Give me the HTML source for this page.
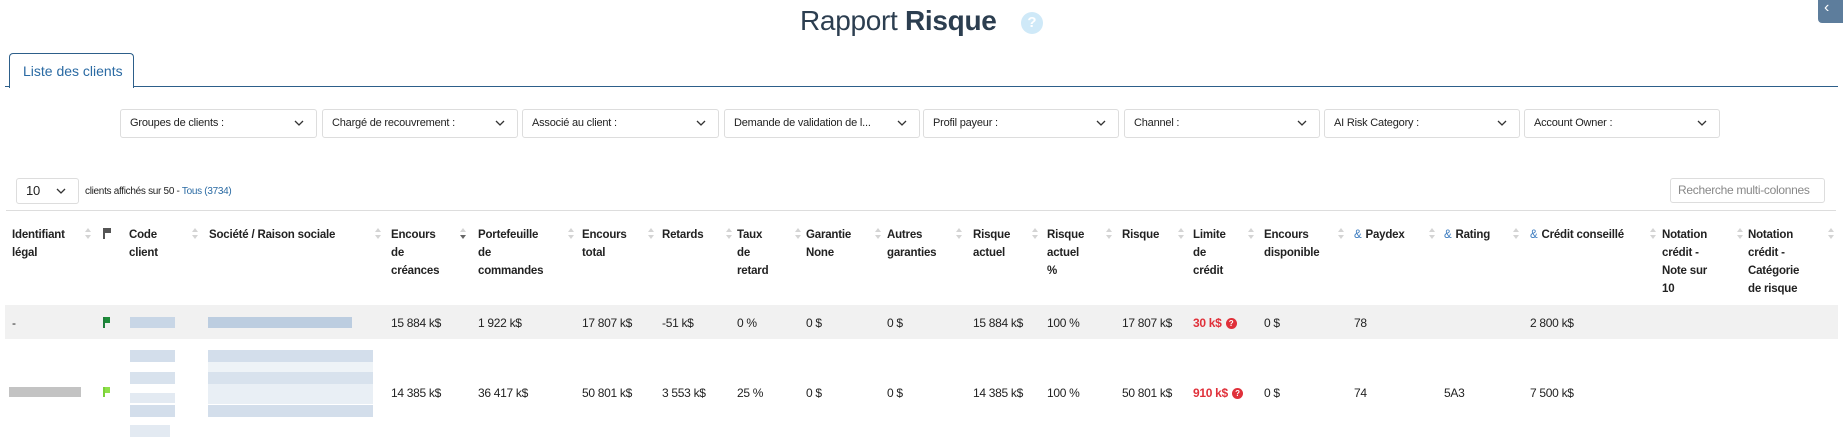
<!DOCTYPE html>
<html><head><meta charset="utf-8"><style>
*{margin:0;padding:0;box-sizing:border-box}
body{width:1843px;height:441px;overflow:hidden;background:#fff;font-family:"Liberation Sans",Arial,sans-serif;color:#222;position:relative}
.a{position:absolute;white-space:nowrap}
.title{left:800px;top:5px;font-size:28px;color:#2c3e50;letter-spacing:-0.3px}
.dd{position:absolute;top:109px;height:29px;border:1px solid #ddd;border-radius:3px;font-size:11px;line-height:27px;padding-left:9px;color:#222;letter-spacing:-0.2px}
.dd svg{position:absolute;right:12px;top:10px}
.h{position:absolute;top:226px;font-size:11.5px;font-weight:bold;line-height:18px;color:#222;letter-spacing:-0.2px}
.d{position:absolute;font-size:12px;letter-spacing:-0.3px}
.r1{top:316px}.r2{top:386px}
.red{color:#e0303a;font-weight:bold}
.q{display:inline-block;width:11px;height:11px;border-radius:50%;background:#e0303a;color:#fff;font-size:8px;line-height:11px;text-align:center;margin-left:4px;vertical-align:1px}
.bl{position:absolute;background:#c8d6e6}
.lk{color:#3b7bbf;font-weight:normal;margin-right:4px}
</style></head><body>
<div class="a title"><span style="font-weight:300">Rapport</span> <span style="font-weight:bold">Risque</span></div>
<div class="a" style="left:1021px;top:12px;width:22px;height:22px;border-radius:50%;background:#cfe9f8;color:#fff;font-size:15px;font-weight:bold;text-align:center;line-height:22px">?</div>
<div class="a" style="left:1818px;top:-4px;width:30px;height:27px;border-radius:4px;background:#5d7d9c;color:#fff;font-size:16px;line-height:24px;padding-left:6px">‹</div>

<div class="a" style="left:9px;top:53px;width:125px;height:35px;border:1px solid #2d5f8a;border-bottom:none;border-radius:4px 4px 0 0;background:#fff;z-index:2;font-size:14px;color:#2a6aa3;line-height:34px;padding-left:13px">Liste des clients</div>
<div class="a" style="left:5px;top:86px;width:1833px;height:1px;background:#2d5f8a"></div>

<div class="dd" style="left:120px;width:197px">Groupes de clients :<svg width="10" height="7"><path d="M1 1l4 4 4-4" stroke="#333" fill="none" stroke-width="1.3"/></svg></div>
<div class="dd" style="left:322px;width:196px">Chargé de recouvrement :<svg width="10" height="7"><path d="M1 1l4 4 4-4" stroke="#333" fill="none" stroke-width="1.3"/></svg></div>
<div class="dd" style="left:522px;width:197px">Associé au client :<svg width="10" height="7"><path d="M1 1l4 4 4-4" stroke="#333" fill="none" stroke-width="1.3"/></svg></div>
<div class="dd" style="left:724px;width:196px">Demande de validation de l...<svg width="10" height="7"><path d="M1 1l4 4 4-4" stroke="#333" fill="none" stroke-width="1.3"/></svg></div>
<div class="dd" style="left:923px;width:196px">Profil payeur :<svg width="10" height="7"><path d="M1 1l4 4 4-4" stroke="#333" fill="none" stroke-width="1.3"/></svg></div>
<div class="dd" style="left:1124px;width:196px">Channel :<svg width="10" height="7"><path d="M1 1l4 4 4-4" stroke="#333" fill="none" stroke-width="1.3"/></svg></div>
<div class="dd" style="left:1324px;width:196px">AI Risk Category :<svg width="10" height="7"><path d="M1 1l4 4 4-4" stroke="#333" fill="none" stroke-width="1.3"/></svg></div>
<div class="dd" style="left:1524px;width:196px">Account Owner :<svg width="10" height="7"><path d="M1 1l4 4 4-4" stroke="#333" fill="none" stroke-width="1.3"/></svg></div>

<div class="dd" style="left:16px;top:178px;width:63px;height:26px;font-size:13px;line-height:24px">10<svg width="10" height="7" style="top:9px"><path d="M1 1l4 4 4-4" stroke="#333" fill="none" stroke-width="1.3"/></svg></div>
<div class="a" style="left:85px;top:186px;font-size:10px;letter-spacing:-0.3px">clients affichés sur 50 - <span style="color:#2a6aa3">Tous (3734)</span></div>
<div class="a" style="left:1670px;top:178px;width:155px;height:25px;border:1px solid #ddd;border-radius:3px;font-size:12px;color:#888;line-height:23px;padding-left:7px;letter-spacing:-0.3px">Recherche multi-colonnes</div>
<div class="a" style="left:6px;top:210px;width:1830px;height:1px;background:#ddd"></div>

<div class="h" style="left:12px">Identifiant<br>légal</div>
<div class="a" style="left:103px;top:228px;width:2px;height:11px;background:#555"></div><div class="a" style="left:105px;top:228px;width:6px;height:5px;background:#555"></div>
<div class="h" style="left:129px">Code<br>client</div>
<div class="h" style="left:209px">Société / Raison sociale</div>
<div class="h" style="left:391px">Encours<br>de<br>créances</div>
<div class="h" style="left:478px">Portefeuille<br>de<br>commandes</div>
<div class="h" style="left:582px">Encours<br>total</div>
<div class="h" style="left:662px">Retards</div>
<div class="h" style="left:737px">Taux<br>de<br>retard</div>
<div class="h" style="left:806px">Garantie<br>None</div>
<div class="h" style="left:887px">Autres<br>garanties</div>
<div class="h" style="left:973px">Risque<br>actuel</div>
<div class="h" style="left:1047px">Risque<br>actuel<br>%</div>
<div class="h" style="left:1122px">Risque</div>
<div class="h" style="left:1193px">Limite<br>de<br>crédit</div>
<div class="h" style="left:1264px">Encours<br>disponible</div>
<div class="h" style="left:1354px"><span class="lk">&amp;</span>Paydex</div>
<div class="h" style="left:1444px"><span class="lk">&amp;</span>Rating</div>
<div class="h" style="left:1530px"><span class="lk">&amp;</span>Crédit conseillé</div>
<div class="h" style="left:1662px">Notation<br>crédit -<br>Note sur<br>10</div>
<div class="h" style="left:1748px">Notation<br>crédit -<br>Catégorie<br>de risque</div>

<svg class="a" style="left:0;top:226px" width="1843" height="16">
<g fill="#d4d4d4">
<path id="s" d="M0 6l3-4 3 4zM0 9l3 4 3-4z" transform="translate(85,0)"/>
<use href="#s" x="107"/><use href="#s" x="290"/><use href="#s" x="483"/><use href="#s" x="563"/><use href="#s" x="641"/><use href="#s" x="710"/><use href="#s" x="790"/><use href="#s" x="871"/><use href="#s" x="947"/><use href="#s" x="1021"/><use href="#s" x="1093"/><use href="#s" x="1163"/><use href="#s" x="1253"/><use href="#s" x="1344"/><use href="#s" x="1428"/><use href="#s" x="1565"/><use href="#s" x="1652"/><use href="#s" x="1743"/>
</g>
<path d="M460 6l3-4 3 4z" fill="#d4d4d4"/><path d="M460 9l3 4 3-4z" fill="#666"/>
</svg>

<div class="a" style="left:5px;top:305px;width:1833px;height:34px;background:#f1f1f1"></div>
<div class="d r1" style="left:12px">-</div>
<div class="a" style="left:103px;top:317px;width:2px;height:11px;background:#1e7d3a"></div><div class="a" style="left:105px;top:317px;width:5px;height:6px;background:#1e8c3a"></div>
<div class="bl" style="left:130px;top:317px;width:45px;height:11px"></div>
<div class="bl" style="left:208px;top:317px;width:144px;height:11px;background:#bccde0"></div>
<div class="d r1" style="left:391px">15 884 k$</div>
<div class="d r1" style="left:478px">1 922 k$</div>
<div class="d r1" style="left:582px">17 807 k$</div>
<div class="d r1" style="left:662px">-51 k$</div>
<div class="d r1" style="left:737px">0 %</div>
<div class="d r1" style="left:806px">0 $</div>
<div class="d r1" style="left:887px">0 $</div>
<div class="d r1" style="left:973px">15 884 k$</div>
<div class="d r1" style="left:1047px">100 %</div>
<div class="d r1" style="left:1122px">17 807 k$</div>
<div class="d r1 red" style="left:1193px">30 k$<span class="q">?</span></div>
<div class="d r1" style="left:1264px">0 $</div>
<div class="d r1" style="left:1354px">78</div>
<div class="d r1" style="left:1530px">2 800 k$</div>

<div class="a" style="left:9px;top:387px;width:72px;height:10px;background:#b4b4b4;opacity:.8"></div>
<div class="a" style="left:103px;top:387px;width:2px;height:10px;background:#7bd13a"></div><div class="a" style="left:105px;top:387px;width:5px;height:6px;background:#8fe04a"></div>
<div class="bl" style="left:130px;top:350px;width:45px;height:12px;opacity:.8"></div>
<div class="bl" style="left:130px;top:372px;width:45px;height:12px;opacity:.7"></div>
<div class="bl" style="left:130px;top:393px;width:45px;height:10px;opacity:.5"></div>
<div class="bl" style="left:130px;top:405px;width:45px;height:12px;opacity:.8"></div>
<div class="bl" style="left:130px;top:425px;width:40px;height:12px;opacity:.5"></div>
<div class="bl" style="left:208px;top:350px;width:165px;height:12px;opacity:.8"></div>
<div class="bl" style="left:208px;top:362px;width:165px;height:10px;opacity:.3"></div>
<div class="bl" style="left:208px;top:372px;width:165px;height:12px;opacity:.7"></div>
<div class="bl" style="left:208px;top:384px;width:165px;height:20px;opacity:.4"></div>
<div class="bl" style="left:208px;top:405px;width:165px;height:12px;opacity:.8"></div>
<div class="d r2" style="left:391px">14 385 k$</div>
<div class="d r2" style="left:478px">36 417 k$</div>
<div class="d r2" style="left:582px">50 801 k$</div>
<div class="d r2" style="left:662px">3 553 k$</div>
<div class="d r2" style="left:737px">25 %</div>
<div class="d r2" style="left:806px">0 $</div>
<div class="d r2" style="left:887px">0 $</div>
<div class="d r2" style="left:973px">14 385 k$</div>
<div class="d r2" style="left:1047px">100 %</div>
<div class="d r2" style="left:1122px">50 801 k$</div>
<div class="d r2 red" style="left:1193px">910 k$<span class="q">?</span></div>
<div class="d r2" style="left:1264px">0 $</div>
<div class="d r2" style="left:1354px">74</div>
<div class="d r2" style="left:1444px">5A3</div>
<div class="d r2" style="left:1530px">7 500 k$</div>
</body></html>
